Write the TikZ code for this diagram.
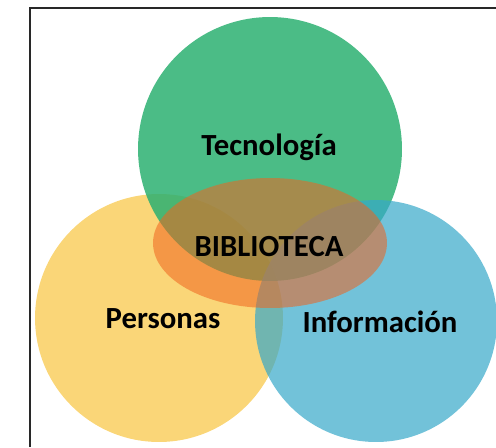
\documentclass[tikz,border=0pt]{standalone}
\usepackage{fontspec}
\setmainfont{Carlito}
\usetikzlibrary{shapes.geometric, positioning}
\definecolor{verde}{RGB}{44,176,113}
\definecolor{amarillo}{RGB}{250,214,120}
\definecolor{azul}{RGB}{54,168,201}
\definecolor{naranja}{RGB}{240,100,30}
\definecolor{marco}{RGB}{40,40,40}

\begin{document}
\begin{tikzpicture}[x=0.02cm, y=-0.02cm,
    set/.style={circle, inner sep=0pt, outer sep=0pt},
    lbl/.style={font=\fontsize{17.5}{21}\selectfont\bfseries, text=black, anchor=base}]
    \useasboundingbox (0,0) rectangle (496,447);
    \draw[marco, line width=0.7pt] (30,447) -- (30,8) -- (496,8);
    % the three sets
    \node[set, fill=amarillo, minimum size=4.96cm] (P) at (159,318) {};
    \node[set, fill=verde, fill opacity=0.85, minimum size=5.28cm] (T) at (270,149) {};
    \node[set, fill=azul, fill opacity=0.7, minimum size=4.84cm] (I) at (376,321) {};
    % the library in the middle
    \node[ellipse, inner sep=0pt, fill=naranja, fill opacity=0.55, minimum width=4.68cm, minimum height=2.6cm] (B) at (270,243) {};
    \node[lbl] (Tt) at (269,155) {Tecnología};
    \node[lbl] (Bt) at (269,256) {BIBLIOTECA};
    \node[lbl] (Pt) at (163,328) {Personas};
    \node[lbl] (It) at (380,332) {Información};
\end{tikzpicture}
\end{document}
